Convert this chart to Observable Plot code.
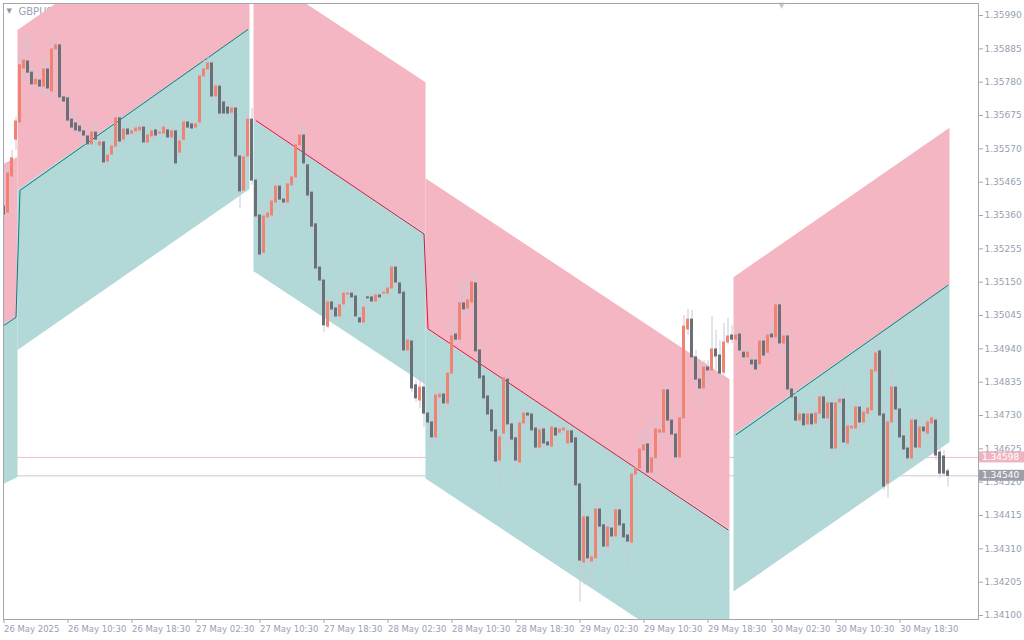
<!DOCTYPE html>
<html><head><meta charset="utf-8">
<script src="https://cdn.jsdelivr.net/npm/d3@7"></script>
<script src="https://cdn.jsdelivr.net/npm/@observablehq/plot@0.6"></script>
<style>
html,body{margin:0;padding:0;background:#fff;}
#chart{width:1024px;height:640px;overflow:hidden;position:relative;}
</style></head><body><div id="chart"></div>
<script>
// ---- data (GBPUSD, M30 bars) ----
const symbol = "GBPUSD";
const opens = [
1.35388,1.35369,1.35483,1.35599,1.35653,1.35823,1.35845,1.35810,1.35773,1.35785,
1.35766,1.35820,1.35751,1.35883,1.35896,1.35732,1.35729,1.35662,1.35650,1.35640,
1.35625,1.35609,1.35584,1.35621,1.35581,1.35590,1.35530,1.35552,1.35577,1.35666,
1.35599,1.35631,1.35618,1.35625,1.35628,1.35637,1.35590,1.35609,1.35628,1.35618,
1.35618,1.35628,1.35606,1.35625,1.35558,1.35599,1.35653,1.35647,1.35637,1.35653,
1.35798,1.35820,1.35839,1.35735,1.35766,1.35716,1.35700,1.35684,1.35697,1.35546,
1.35439,1.35546,1.35662,1.35470,1.35360,1.35243,1.35354,1.35360,1.35401,1.35451,
1.35410,1.35401,1.35455,1.35480,1.35581,1.35612,1.35518,1.35432,1.35332,1.35196,
1.35155,1.35010,1.35086,1.35067,1.35042,1.35080,1.35111,1.35114,1.35105,1.35036,
1.35023,1.35102,1.35102,1.35089,1.35108,1.35114,1.35114,1.35130,1.35196,1.35146,
1.35117,1.34935,1.34963,1.34825,1.34777,1.34818,1.34736,1.34708,1.34661,1.34787,
1.34796,1.34768,1.34862,1.34985,1.34969,1.35083,1.35067,1.35086,1.35146,1.34935,
1.34853,1.34790,1.34746,1.34683,1.34588,1.34673,1.34843,1.34702,1.34658,1.34582,
1.34705,1.34736,1.34733,1.34689,1.34629,1.34686,1.34645,1.34632,1.34689,1.34676,
1.34683,1.34642,1.34680,1.34658,1.34513,1.34267,1.34409,1.34270,1.34280,1.34434,
1.34384,1.34317,1.34374,1.34349,1.34431,1.34387,1.34352,1.34330,1.34544,1.34563,
1.34620,1.34639,1.34550,1.34595,1.34676,1.34676,1.34809,1.34714,1.34670,1.34598,
1.34721,1.35001,1.35032,1.34913,1.34843,1.34815,1.34881,1.34872,1.34938,1.34919,
1.34865,1.34960,1.34982,1.34969,1.34985,1.34928,1.34913,1.34903,1.34903,1.34891,
1.34963,1.34928,1.34985,1.34976,1.35077,1.34957,1.34979,1.34812,1.34787,1.34714,
1.34733,1.34702,1.34733,1.34705,1.34736,1.34787,1.34721,1.34768,1.34626,1.34771,
1.34780,1.34642,1.34689,1.34689,1.34755,1.34708,1.34736,1.34746,1.34869,1.34932,
1.34733,1.34516,1.34708,1.34818,1.34749,1.34664,1.34626,1.34595,1.34714,1.34629,
1.34692,1.34673,1.34705,1.34714,1.34613,1.34601,1.34554];
const highs = [
1.35401,1.35508,1.35565,1.35669,1.35873,1.35921,1.35933,1.35833,1.35817,1.35804,
1.35848,1.35848,1.35921,1.35918,1.35899,1.35754,1.35738,1.35681,1.35703,1.35666,
1.35644,1.35628,1.35666,1.35666,1.35612,1.35603,1.35565,1.35596,1.35684,1.35684,
1.35653,1.35653,1.35640,1.35650,1.35653,1.35653,1.35628,1.35640,1.35644,1.35637,
1.35653,1.35644,1.35634,1.35634,1.35612,1.35666,1.35672,1.35659,1.35666,1.35810,
1.35848,1.35864,1.35848,1.35785,1.35776,1.35738,1.35722,1.35722,1.35710,1.35565,
1.35565,1.35697,1.35697,1.35483,1.35392,1.35382,1.35407,1.35439,1.35486,1.35486,
1.35439,1.35477,1.35508,1.35596,1.35644,1.35647,1.35533,1.35445,1.35344,1.35212,
1.35171,1.35108,1.35108,1.35092,1.35099,1.35140,1.35140,1.35140,1.35124,1.35061,
1.35092,1.35124,1.35124,1.35124,1.35124,1.35133,1.35146,1.35212,1.35218,1.35155,
1.35130,1.34982,1.34979,1.34840,1.34856,1.34850,1.34746,1.34721,1.34809,1.34825,
1.34815,1.34888,1.35036,1.35067,1.35146,1.35149,1.35155,1.35187,1.35171,1.34951,
1.34872,1.34825,1.34777,1.34699,1.34714,1.34856,1.34888,1.34730,1.34683,1.34721,
1.34762,1.34784,1.34746,1.34714,1.34699,1.34699,1.34667,1.34708,1.34702,1.34699,
1.34702,1.34689,1.34689,1.34676,1.34525,1.34447,1.34431,1.34305,1.34462,1.34462,
1.34399,1.34399,1.34399,1.34447,1.34462,1.34399,1.34368,1.34557,1.34604,1.34689,
1.34683,1.34739,1.34620,1.34727,1.34714,1.34834,1.34825,1.34746,1.34699,1.34746,
1.35045,1.35064,1.35061,1.34935,1.34903,1.34903,1.34903,1.35042,1.34998,1.34966,
1.35020,1.35036,1.35014,1.35004,1.35004,1.34951,1.34951,1.34935,1.34928,1.34982,
1.34982,1.35004,1.35029,1.35092,1.35105,1.34998,1.34998,1.34825,1.34809,1.34762,
1.34752,1.34762,1.34762,1.34762,1.34825,1.34809,1.34793,1.34793,1.34784,1.34809,
1.34840,1.34714,1.34721,1.34809,1.34777,1.34762,1.34777,1.34903,1.34976,1.34966,
1.34762,1.34721,1.34881,1.34840,1.34777,1.34683,1.34651,1.34746,1.34746,1.34730,
1.34714,1.34730,1.34746,1.34730,1.34626,1.34620,1.34563];
const lows = [
1.35351,1.35360,1.35477,1.35565,1.35644,1.35770,1.35785,1.35760,1.35760,1.35738,
1.35738,1.35738,1.35713,1.35848,1.35722,1.35697,1.35644,1.35628,1.35612,1.35596,
1.35581,1.35543,1.35565,1.35581,1.35565,1.35518,1.35502,1.35533,1.35565,1.35571,
1.35571,1.35596,1.35596,1.35603,1.35609,1.35577,1.35571,1.35596,1.35596,1.35603,
1.35606,1.35596,1.35590,1.35514,1.35540,1.35581,1.35628,1.35621,1.35628,1.35644,
1.35785,1.35801,1.35716,1.35722,1.35669,1.35666,1.35666,1.35666,1.35533,1.35382,
1.35432,1.35533,1.35455,1.35338,1.35212,1.35225,1.35329,1.35338,1.35376,1.35360,
1.35344,1.35392,1.35439,1.35464,1.35571,1.35502,1.35407,1.35313,1.35180,1.35140,
1.34991,1.35004,1.35036,1.35029,1.35029,1.35067,1.35092,1.35077,1.35029,1.35014,
1.35014,1.35061,1.35077,1.35077,1.35092,1.35099,1.35105,1.35124,1.35140,1.35092,
1.34919,1.34910,1.34802,1.34771,1.34752,1.34692,1.34699,1.34604,1.34636,1.34714,
1.34730,1.34746,1.34853,1.34951,1.34960,1.35045,1.35045,1.35077,1.34919,1.34825,
1.34752,1.34714,1.34651,1.34557,1.34494,1.34620,1.34620,1.34636,1.34532,1.34573,
1.34683,1.34699,1.34667,1.34613,1.34613,1.34620,1.34626,1.34620,1.34651,1.34664,
1.34667,1.34632,1.34636,1.34500,1.34141,1.34195,1.34217,1.34185,1.34258,1.34352,
1.34289,1.34289,1.34336,1.34336,1.34352,1.34321,1.34251,1.34311,1.34494,1.34557,
1.34604,1.34541,1.34541,1.34541,1.34651,1.34651,1.34699,1.34620,1.34569,1.34588,
1.34714,1.34982,1.34903,1.34834,1.34755,1.34802,1.34825,1.34865,1.34872,1.34840,
1.34856,1.34951,1.34957,1.34951,1.34919,1.34897,1.34888,1.34878,1.34856,1.34878,
1.34903,1.34916,1.34951,1.34966,1.34888,1.34935,1.34793,1.34777,1.34699,1.34699,
1.34683,1.34683,1.34683,1.34667,1.34714,1.34636,1.34699,1.34541,1.34604,1.34746,
1.34620,1.34620,1.34651,1.34667,1.34683,1.34689,1.34721,1.34730,1.34856,1.34714,
1.34494,1.34469,1.34699,1.34730,1.34651,1.34604,1.34573,1.34582,1.34613,1.34620,
1.34664,1.34651,1.34689,1.34588,1.34532,1.34538,1.34506];
const closes = [
1.35363,1.35492,1.35540,1.35656,1.35833,1.35848,1.35810,1.35773,1.35788,1.35766,
1.35820,1.35760,1.35883,1.35896,1.35732,1.35719,1.35659,1.35637,1.35628,1.35625,
1.35612,1.35584,1.35621,1.35599,1.35590,1.35527,1.35549,1.35577,1.35666,1.35593,
1.35631,1.35615,1.35625,1.35634,1.35637,1.35590,1.35612,1.35625,1.35612,1.35621,
1.35637,1.35606,1.35625,1.35524,1.35593,1.35653,1.35637,1.35634,1.35647,1.35798,
1.35820,1.35839,1.35735,1.35766,1.35681,1.35681,1.35681,1.35697,1.35546,1.35436,
1.35543,1.35662,1.35470,1.35357,1.35237,1.35357,1.35366,1.35404,1.35451,1.35410,
1.35401,1.35458,1.35480,1.35581,1.35612,1.35524,1.35423,1.35325,1.35193,1.35155,
1.35014,1.35086,1.35064,1.35042,1.35077,1.35114,1.35114,1.35102,1.35042,1.35023,
1.35070,1.35099,1.35089,1.35108,1.35102,1.35117,1.35130,1.35196,1.35149,1.35114,
1.34935,1.34966,1.34815,1.34784,1.34818,1.34736,1.34708,1.34661,1.34793,1.34796,
1.34768,1.34862,1.34979,1.34969,1.35083,1.35064,1.35092,1.35149,1.34932,1.34847,
1.34784,1.34733,1.34680,1.34585,1.34661,1.34847,1.34702,1.34654,1.34588,1.34705,
1.34736,1.34730,1.34683,1.34629,1.34683,1.34642,1.34636,1.34692,1.34667,1.34686,
1.34689,1.34680,1.34645,1.34510,1.34273,1.34409,1.34280,1.34283,1.34434,1.34380,
1.34317,1.34377,1.34349,1.34431,1.34384,1.34346,1.34333,1.34544,1.34563,1.34623,
1.34636,1.34550,1.34595,1.34686,1.34683,1.34809,1.34714,1.34670,1.34598,1.34721,
1.35010,1.35032,1.34913,1.34843,1.34815,1.34881,1.34872,1.34938,1.34916,1.34862,
1.34960,1.34979,1.34969,1.34982,1.34935,1.34913,1.34928,1.34891,1.34875,1.34963,
1.34919,1.34982,1.34976,1.35077,1.34957,1.34979,1.34812,1.34787,1.34714,1.34733,
1.34699,1.34733,1.34702,1.34736,1.34787,1.34721,1.34768,1.34626,1.34768,1.34780,
1.34645,1.34695,1.34695,1.34755,1.34708,1.34739,1.34752,1.34872,1.34925,1.34730,
1.34506,1.34708,1.34818,1.34749,1.34661,1.34623,1.34595,1.34714,1.34629,1.34692,
1.34680,1.34708,1.34721,1.34604,1.34547,1.34547,1.34540];

// regression channels (bar index ranges, mid-line values, half width)
const chanStart    = [0, 4, 63, 106, 183];
const chanEnd      = [3, 61, 105, 181, 236];
const chanMidStart = [1.35014, 1.35439, 1.35659, 1.35003, 1.34669];
const chanMidEnd   = [1.35039, 1.35946, 1.35302, 1.34370, 1.35140];
const chanHalf     = [0.00504, 0.00504, 0.00476, 0.00473, 0.00495];
const chanDir      = ["up", "up", "down", "down", "up"];
const chanLinked   = [false, true, false, true, false];

// price lines
const askPrice = 1.34598;
const bidPrice = 1.34540;

// axis ticks
const yTicks = [1.35990,1.35885,1.35780,1.35675,1.35570,1.35465,1.35360,1.35255,1.35150,1.35045,
                1.34940,1.34835,1.34730,1.34625,1.34520,1.34415,1.34310,1.34205,1.34100];
const xTicks = [0,16,32,48,64,80,96,112,128,144,160,176,192,208,224];
const xLabels = ["26 May 2025","26 May 10:30","26 May 18:30","27 May 02:30","27 May 10:30",
                 "27 May 18:30","28 May 02:30","28 May 10:30","28 May 18:30","29 May 02:30",
                 "29 May 10:30","29 May 18:30","30 May 02:30","30 May 10:30","30 May 18:30"];

// ---- styles ----
const FONT = "DejaVu Sans, Verdana, sans-serif";
const PINK = "#f4b6c2", TEAL = "#b2d8d8";
const UPLINE = "#008080", DOWNLINE = "#dc143c";
const BULL = "#ef8374", BEAR = "#6b6f78", WICK = "#c8c9d4";
const AXIS = "#97a0b2", BORDER = "#a4a6ae";

// ---- build tables ----
const bars = opens.map((o, i) => ({i, open: o, high: highs[i], low: lows[i], close: closes[i]}));
const bands = [];
const mids = [];
let run = -1;
chanStart.forEach((s, k) => {
  const e = chanEnd[k], h = chanHalf[k];
  bands.push({c: k, x: s - 0.5, mid: chanMidStart[k], top: chanMidStart[k] + h, bot: chanMidStart[k] - h});
  bands.push({c: k, x: e + 0.5, mid: chanMidEnd[k], top: chanMidEnd[k] + h, bot: chanMidEnd[k] - h});
  if (!chanLinked[k]) run++;
  mids.push({run, dir: chanDir[k], x: s, y: chanMidStart[k]});
  mids.push({run, dir: chanDir[k], x: e, y: chanMidEnd[k]});
});

const chart = Plot.plot({
  width: 1024, height: 640,
  marginTop: 3, marginRight: 46, marginBottom: 21, marginLeft: 3,
  style: {fontFamily: FONT, background: "#fff"},
  x: {type: "linear", domain: [-0.125, 243.625], axis: null},
  y: {domain: [1.340874, 1.360278], axis: null},
  marks: [
    Plot.ruleY([askPrice], {stroke: "#efbfcb", strokeWidth: 1}),
    Plot.ruleY([bidPrice], {stroke: "#c9cad2", strokeWidth: 1}),
    Plot.text([symbol], {frameAnchor: "top-left", dx: 15, dy: 4, textAnchor: "start", lineAnchor: "top", fill: AXIS, fontSize: 10}),
    Plot.text(["▼"], {frameAnchor: "top-left", dx: 3, dy: 5, textAnchor: "start", lineAnchor: "top", fill: "#8e96a6", fontSize: 7}),
    Plot.areaY(bands, {x: "x", y1: "mid", y2: "top", z: "c", fill: PINK, curve: "linear", clip: true}),
    Plot.areaY(bands, {x: "x", y1: "bot", y2: "mid", z: "c", fill: TEAL, curve: "linear", clip: true}),
    Plot.line(mids, {x: "x", y: "y", z: "run", stroke: d => d.dir === "up" ? UPLINE : DOWNLINE, strokeWidth: 1, clip: true}),
    Plot.ruleX(bars, {x: "i", y1: "low", y2: "high", stroke: WICK, strokeWidth: 1, clip: true}),
    Plot.rect(bars, {x1: d => d.i - 0.375, x2: d => d.i + 0.375, y1: "open", y2: "close",
      fill: d => d.close >= d.open ? BULL : BEAR, insetTop: -0.5, insetBottom: -0.5, clip: true}),
    Plot.text(["▼"], {frameAnchor: "top-right", dx: -197, dy: -1, textAnchor: "middle", lineAnchor: "top", fill: "#c6c9d1", fontSize: 8}),
    Plot.frame({stroke: BORDER}),
    Plot.axisY(yTicks, {anchor: "right", tickSize: 4, tickPadding: 2, tickFormat: d => d.toFixed(5),
      fontSize: 9, color: AXIS, stroke: BORDER}),
    Plot.axisX(xTicks, {anchor: "bottom", tickSize: 4, tickPadding: 2, textAnchor: "start",
      tickFormat: d => xLabels[xTicks.indexOf(d)], fontSize: 8.5, color: AXIS, stroke: BORDER})
  ]
});
document.getElementById("chart").appendChild(chart);

// price tags on the right scale
const ys = chart.scale("y");
const svg = d3.select(chart);
[[askPrice, "#efb4c1"], [bidPrice, "#9c9fa7"]].forEach(([v, col]) => {
  const yy = ys.apply(v);
  svg.append("rect").attr("x", 979).attr("y", yy - 5.5).attr("width", 45).attr("height", 11).attr("fill", col);
  svg.append("text").attr("x", 982).attr("y", yy).attr("dy", "0.35em").attr("fill", "#fff")
    .attr("text-anchor", "start").attr("font-size", 9).attr("font-family", FONT).text(v.toFixed(5));
});
</script>
</body></html>
